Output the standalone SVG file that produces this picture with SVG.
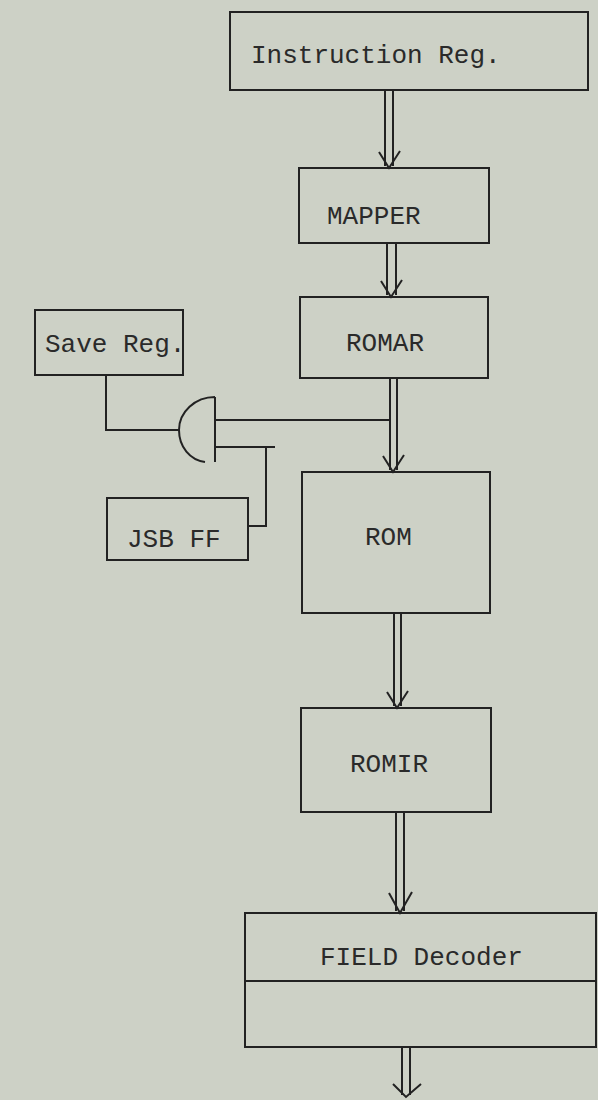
<svg xmlns="http://www.w3.org/2000/svg" width="598" height="1100" viewBox="0 0 598 1100">
<style>
.box{fill:none;stroke:#222;stroke-width:2}
.ln{fill:none;stroke:#222;stroke-width:2}
.hd{fill:none;stroke:#222;stroke-width:2;stroke-linejoin:miter}
.t{font-family:"Liberation Mono","DejaVu Sans Mono",monospace;font-size:26px;fill:#2a2a2a}
</style>
<rect x="0" y="0" width="598" height="1100" fill="#cdd1c6"/>
<g id="instruction-reg"><rect class="box" x="230" y="12" width="358" height="78"/><text class="t" x="251" y="63">Instruction Reg.</text></g>
<g id="mapper"><rect class="box" x="299" y="168" width="190" height="75"/><text class="t" x="327" y="224">MAPPER</text></g>
<g id="romar"><rect class="box" x="300" y="297" width="188" height="81"/><text class="t" x="346" y="351">ROMAR</text></g>
<g id="save-reg"><rect class="box" x="35" y="310" width="148" height="65"/><text class="t" x="45" y="352">Save Reg.</text></g>
<g id="jsb-ff"><rect class="box" x="107" y="498" width="141" height="62"/><text class="t" x="127" y="547">JSB FF</text></g>
<g id="gate"><path class="ln" d="M215 397 V462 M215 397 C195 397 179 412 179 430 C179 447 190 460 205 462"/></g>
<g id="rom"><rect class="box" x="302" y="472" width="188" height="141"/><text class="t" x="365" y="545">ROM</text></g>
<g id="romir"><rect class="box" x="301" y="708" width="190" height="104"/><text class="t" x="350" y="772">ROMIR</text></g>
<g id="field-decoder"><rect class="box" x="245" y="913" width="351" height="134"/><line class="ln" x1="245" y1="981" x2="596" y2="981"/><text class="t" x="320" y="965">FIELD Decoder</text></g>
<g id="connectors">
<path class="ln" d="M385 90 V166 M393 90 V166"/><path class="hd" d="M379 152 L389 168 L400 151"/>
<path class="ln" d="M387 243 V295 M396 243 V295"/><path class="hd" d="M381 281 L391 297 L402 280"/>
<path class="ln" d="M390 378 V470 M397 378 V470"/><path class="hd" d="M383 456 L393 472 L404 455"/>
<path class="ln" d="M394 613 V706 M401 613 V706"/><path class="hd" d="M387 692 L397 708 L408 691"/>
<path class="ln" d="M396 812 V911 M404 812 V911"/><path class="hd" d="M389 893 L400 913 L412 892"/>
<path class="ln" d="M402 1047 V1095 M410 1047 V1095"/><path class="hd" d="M393 1084 L406 1097 L421 1084"/>
<path class="ln" d="M106 375 V430 H179"/>
<path class="ln" d="M215 420 H390"/>
<path class="ln" d="M215 447 H275 M266 447 V526 H248"/>
</g>
</svg>
